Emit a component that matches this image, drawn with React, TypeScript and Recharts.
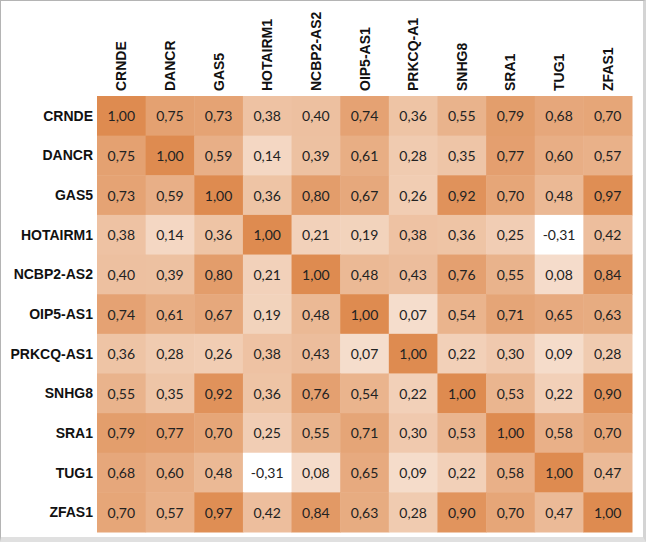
import React from "react";
import { ScatterChart, Scatter, XAxis, YAxis } from "recharts";

const colLabels = ["CRNDE", "DANCR", "GAS5", "HOTAIRM1", "NCBP2-AS2", "OIP5-AS1", "PRKCQ-A1", "SNHG8", "SRA1", "TUG1", "ZFAS1"];
const rowLabels = ["CRNDE", "DANCR", "GAS5", "HOTAIRM1", "NCBP2-AS2", "OIP5-AS1", "PRKCQ-AS1", "SNHG8", "SRA1", "TUG1", "ZFAS1"];

const crnde = [1.0, 0.75, 0.73, 0.38, 0.4, 0.74, 0.36, 0.55, 0.79, 0.68, 0.7];
const dancr = [0.75, 1.0, 0.59, 0.14, 0.39, 0.61, 0.28, 0.35, 0.77, 0.6, 0.57];
const gas5 = [0.73, 0.59, 1.0, 0.36, 0.8, 0.67, 0.26, 0.92, 0.7, 0.48, 0.97];
const hotairm1 = [0.38, 0.14, 0.36, 1.0, 0.21, 0.19, 0.38, 0.36, 0.25, -0.31, 0.42];
const ncbp2 = [0.4, 0.39, 0.8, 0.21, 1.0, 0.48, 0.43, 0.76, 0.55, 0.08, 0.84];
const oip5 = [0.74, 0.61, 0.67, 0.19, 0.48, 1.0, 0.07, 0.54, 0.71, 0.65, 0.63];
const prkcq = [0.36, 0.28, 0.26, 0.38, 0.43, 0.07, 1.0, 0.22, 0.3, 0.09, 0.28];
const snhg8 = [0.55, 0.35, 0.92, 0.36, 0.76, 0.54, 0.22, 1.0, 0.53, 0.22, 0.9];
const sra1 = [0.79, 0.77, 0.7, 0.25, 0.55, 0.71, 0.3, 0.53, 1.0, 0.58, 0.7];
const tug1 = [0.68, 0.6, 0.48, -0.31, 0.08, 0.65, 0.09, 0.22, 0.58, 1.0, 0.47];
const zfas1 = [0.7, 0.57, 0.97, 0.42, 0.84, 0.63, 0.28, 0.9, 0.7, 0.47, 1.0];

const matrix = [crnde, dancr, gas5, hotairm1, ncbp2, oip5, prkcq, snhg8, sra1, tug1, zfas1];

const W = 646;
const H = 542;
const M = { top: 0, left: 0, right: 14, bottom: 10 };
const X_AXIS_H = 96;
const Y_AXIS_W = 97;
const cellW = (W - M.left - M.right - Y_AXIS_W) / 11;
const cellH = (H - M.top - M.bottom - X_AXIS_H) / 11;

const vals = matrix.flat();
const vMin = Math.min(...vals);
const vMax = Math.max(...vals);
const hi = [222, 139, 80];

const colorFor = (v) => {
  const t = (v - vMin) / (vMax - vMin);
  const c = hi.map((h) => Math.round(255 + (h - 255) * t));
  return `rgb(${c[0]},${c[1]},${c[2]})`;
};

const data = [];
matrix.forEach((row, r) => {
  row.forEach((v, c) => {
    data.push({ x: c, y: r, v });
  });
});

const Cell = (props) => {
  const { cx, cy, payload } = props;
  return (
    <g>
      <rect
        x={cx - cellW / 2}
        y={cy - cellH / 2}
        width={cellW + 0.5}
        height={cellH + 0.5}
        fill={colorFor(payload.v)}
      />
      <text
        x={cx}
        y={cy}
        textAnchor="middle"
        dominantBaseline="central"
        fontFamily="Lato, 'Open Sans', sans-serif"
        fontSize={14}
        fill="#222"
      >
        {payload.v.toFixed(2).replace(".", ",")}
      </text>
    </g>
  );
};

const ColTick = ({ x, payload }) => (
  <text
    transform={`translate(${x + 5}, 91) rotate(-90)`}
    textAnchor="start"
    fontFamily="'Liberation Sans', Arial, sans-serif"
    fontWeight="bold"
    fontSize={14}
    fill="#111"
  >
    {colLabels[payload.value]}
  </text>
);

const RowTick = ({ y, payload }) => (
  <text
    x={93}
    y={y}
    textAnchor="end"
    dominantBaseline="central"
    fontFamily="'Liberation Sans', Arial, sans-serif"
    fontWeight="bold"
    fontSize={14}
    fill="#111"
  >
    {rowLabels[payload.value]}
  </text>
);

const ticks = colLabels.map((_, i) => i);

export default function App() {
  return (
    <div
      style={{
        position: "absolute",
        left: 0,
        top: 0,
        width: W,
        height: H,
        boxSizing: "border-box",
        background: "#fff",
        borderTop: "1px solid #b4b4b4",
        borderLeft: "1px solid #b4b4b4",
        borderRight: "3px solid #d4d4d4",
        borderBottom: "5px solid #e0e0e0",
        overflow: "hidden",
      }}
    >
      <div style={{ position: "absolute", left: -1, top: -1 }}>
        <ScatterChart width={W} height={H} margin={M}>
          <XAxis
            type="number"
            dataKey="x"
            orientation="top"
            domain={[-0.5, 10.5]}
            ticks={ticks}
            interval={0}
            height={X_AXIS_H}
            axisLine={false}
            tickLine={false}
            tick={<ColTick />}
          />
          <YAxis
            type="number"
            dataKey="y"
            reversed
            domain={[-0.5, 10.5]}
            ticks={ticks}
            interval={0}
            width={Y_AXIS_W}
            axisLine={false}
            tickLine={false}
            tick={<RowTick />}
          />
          <Scatter data={data} shape={<Cell />} isAnimationActive={false} />
        </ScatterChart>
      </div>
    </div>
  );
}
